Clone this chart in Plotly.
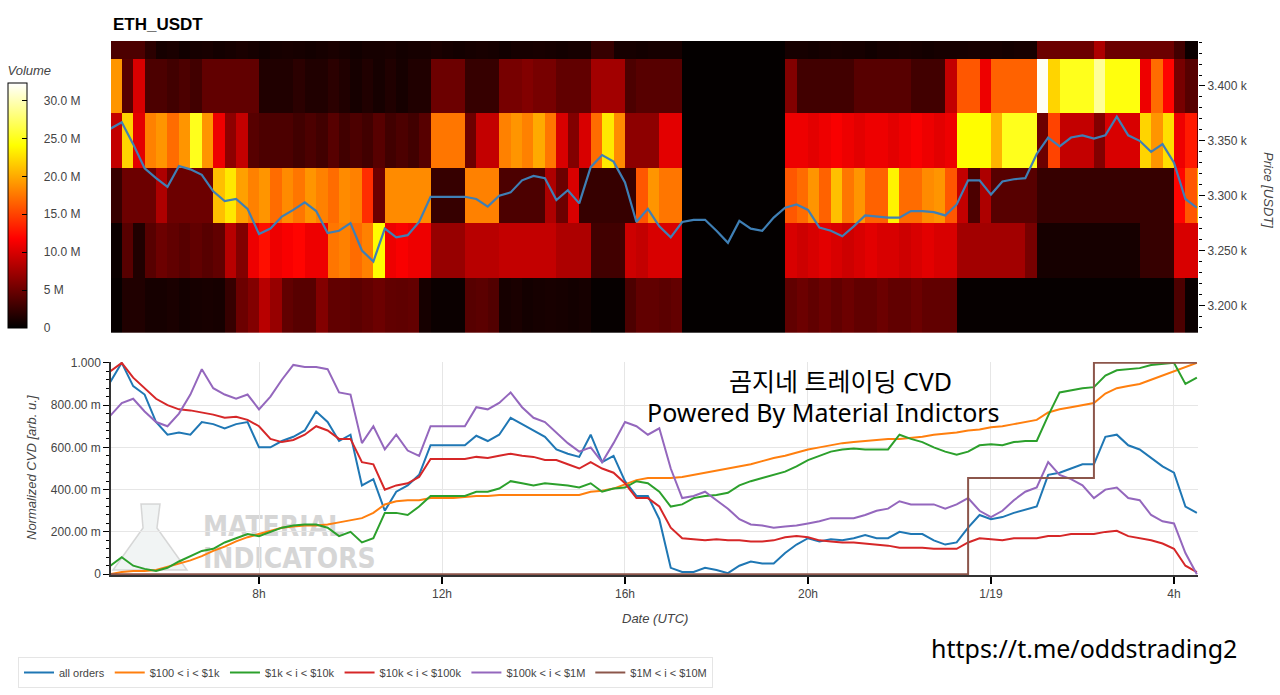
import pandas as pd
import plotly.graph_objects as go

# ---------------- data ----------------
t0 = pd.Timestamp("2025-01-18 04:45")
n_points = 96  # 15-minute samples
times = [t0 + pd.Timedelta(minutes=15 * i) for i in range(n_points)]
heat_x = [t + pd.Timedelta(minutes=7.5) for t in times]
x_range = ["2025-01-18 04:45:54", "2025-01-19 04:31:30"]

price_levels = [3200, 3250, 3300, 3350, 3400, 3450]

# volume per price bin, in millions USDT
vol_3200 = [0.3, 1.5, 1.5, 1.0, 1.0, 1.2, 0.9, 1.0, 1.1, 1.0, 2.5, 5.0,
            6.0, 8.5, 7.0, 4.5, 4.0, 4.0, 6.0, 4.5, 4.5, 4.2, 4.6, 5.0,
            4.5, 4.4, 4.6, 1.0, 0.5, 0.5, 0.5, 4.0, 4.2, 3.8, 1.0, 1.2,
            0.9, 1.0, 1.1, 1.0, 0.9, 1.0, 0.3, 0.3, 0.3, 3.5, 4.5, 4.5,
            4.2, 4.6, 0.2, 0.2, 0.2, 0.2, 0.2, 0.2, 0.2, 0.2, 0.2, 4.5,
            5.0, 4.5, 5.0, 4.5, 5.0, 4.5, 4.5, 5.0, 4.5, 4.5, 5.0, 4.5,
            4.5, 4.5, 0.3, 0.3, 0.3, 0.3, 0.3, 0.3, 0.3, 0.3, 0.3, 0.3,
            0.3, 0.3, 0.3, 0.3, 0.3, 0.3, 0.3, 0.3, 0.3, 3.5, 0.5, 0.5]
vol_3250 = [0.5, 4.0, 1.5, 4.0, 5.0, 4.5, 4.0, 4.5, 4.0, 4.5, 8.5, 6.0,
            11.0, 12.5, 11.0, 11.5, 12.0, 11.0, 11.0, 17.5, 18.0, 17.0, 18.0, 24.0,
            11.0, 11.5, 11.0, 11.0, 7.0, 7.0, 7.0, 8.5, 8.5, 8.5, 9.0, 9.0,
            9.0, 9.0, 9.0, 8.0, 8.0, 8.0, 3.0, 3.0, 3.0, 9.5, 9.0, 10.0,
            10.0, 10.0, 0.2, 0.2, 0.2, 0.2, 0.2, 0.2, 0.2, 0.2, 0.2, 10.0,
            9.5, 10.0, 10.5, 10.0, 9.5, 10.0, 10.5, 10.0, 10.0, 9.5, 10.0, 10.5,
            10.0, 10.0, 7.5, 7.5, 7.5, 7.5, 7.5, 7.5, 5.5, 1.0, 1.0, 1.0,
            1.0, 1.0, 1.0, 1.0, 1.0, 1.0, 2.5, 2.5, 2.5, 10.0, 10.0, 10.0]
vol_3300 = [2.5, 5.0, 5.0, 5.0, 8.0, 5.0, 5.0, 5.0, 5.0, 21.0, 23.0, 19.5,
            18.0, 19.0, 17.0, 18.5, 17.5, 19.0, 18.0, 17.0, 18.5, 18.0, 14.0, 5.0,
            18.5, 18.5, 18.5, 18.5, 2.5, 2.5, 2.5, 18.0, 18.0, 18.0, 3.5, 3.5,
            3.5, 3.5, 8.0, 5.0, 10.0, 2.5, 2.5, 2.5, 2.5, 2.5, 16.0, 19.0,
            17.5, 17.5, 0.2, 0.2, 0.2, 0.2, 0.2, 0.2, 0.2, 0.2, 0.2, 16.0,
            17.0, 19.0, 16.5, 21.0, 17.5, 19.0, 16.5, 16.5, 23.5, 17.0, 17.0, 18.5,
            19.0, 16.0, 9.0, 3.5, 8.0, 4.0, 4.0, 4.0, 4.0, 2.5, 2.5, 2.5,
            2.5, 2.5, 2.5, 2.5, 2.5, 2.5, 2.5, 2.5, 2.5, 12.0, 16.0, 20.5]
vol_3350 = [9.0, 22.0, 10.5, 18.0, 19.0, 17.0, 19.0, 25.0, 19.0, 11.0, 6.5, 9.0,
            4.0, 3.5, 3.5, 3.5, 3.0, 3.5, 3.0, 4.0, 3.0, 3.5, 3.0, 4.0,
            3.0, 3.5, 3.0, 4.0, 17.5, 17.5, 17.5, 5.0, 9.0, 9.0, 18.0, 19.0,
            18.0, 20.0, 17.5, 10.0, 6.0, 10.0, 17.0, 23.0, 18.5, 6.5, 6.5, 6.5,
            10.5, 10.5, 0.2, 0.2, 0.2, 0.2, 0.2, 0.2, 0.2, 0.2, 0.2, 11.0,
            11.0, 10.5, 11.0, 11.5, 11.0, 10.5, 11.0, 11.0, 10.5, 11.0, 11.5, 11.0,
            10.5, 11.0, 24.0, 24.0, 24.0, 20.5, 25.0, 25.0, 25.0, 5.0, 15.0, 9.0,
            9.0, 9.0, 6.0, 10.0, 10.0, 10.0, 22.0, 19.0, 22.5, 11.0, 13.0, 5.0]
vol_3400 = [19.0, 4.0, 10.0, 3.5, 3.5, 3.0, 3.5, 3.0, 4.5, 4.5, 4.5, 4.5,
            4.5, 1.5, 1.5, 1.5, 2.0, 1.5, 1.5, 2.0, 1.5, 1.0, 1.5, 1.0,
            1.5, 1.0, 1.5, 1.5, 5.0, 5.0, 5.0, 2.5, 2.5, 2.5, 5.5, 5.5,
            6.0, 5.5, 5.5, 4.5, 4.5, 4.5, 7.5, 7.5, 7.5, 3.5, 4.0, 4.0,
            4.0, 4.0, 0.2, 0.2, 0.2, 0.2, 0.2, 0.2, 0.2, 0.2, 0.2, 6.0,
            3.0, 3.0, 3.0, 3.0, 3.0, 4.0, 4.0, 4.0, 4.0, 4.0, 3.0, 3.0,
            3.0, 9.0, 16.0, 16.0, 11.0, 16.5, 16.5, 16.5, 16.5, 32.0, 22.0, 25.0,
            25.0, 25.0, 29.0, 24.5, 24.5, 24.5, 11.0, 17.0, 12.0, 5.5, 4.0, 4.0]
vol_3450 = [3.5, 3.5, 3.5, 2.0, 1.0, 1.2, 0.8, 1.0, 1.1, 0.9, 1.0, 1.2,
            1.0, 0.8, 1.0, 1.1, 1.0, 0.9, 1.0, 1.2, 1.0, 0.8, 1.0, 1.0,
            1.1, 0.9, 1.0, 1.0, 1.2, 1.0, 0.9, 1.0, 1.1, 1.0, 0.8, 1.0,
            1.0, 1.1, 1.0, 0.9, 1.0, 1.0, 2.5, 2.5, 1.0, 1.0, 0.9, 1.0,
            1.0, 1.0, 0.2, 0.2, 0.2, 0.2, 0.2, 0.2, 0.2, 0.2, 0.2, 1.0,
            1.0, 0.9, 1.0, 1.1, 1.0, 1.0, 0.8, 1.0, 1.0, 1.1, 1.0, 0.9,
            1.0, 1.0, 1.0, 1.1, 1.0, 1.0, 0.9, 1.0, 1.0, 5.0, 5.0, 5.0,
            5.0, 5.0, 8.0, 5.0, 5.0, 5.0, 5.0, 5.0, 5.0, 3.0, 0.5, 0.5]

price = [3361, 3367, 3347, 3325, 3316, 3308, 3327, 3324, 3319, 3304, 3295, 3297,
         3288, 3265, 3270, 3281, 3287, 3294, 3286, 3266, 3268, 3275, 3250, 3240,
         3270, 3262, 3264, 3276, 3299, 3299, 3299, 3299, 3297, 3290, 3300, 3303,
         3314, 3318, 3316, 3296, 3305, 3293, 3326, 3337, 3331, 3312, 3276, 3288,
         3272, 3262, 3276, 3278, 3278, 3268, 3257, 3277, 3270, 3268, 3280, 3289,
         3292, 3287, 3271, 3268, 3263, 3272, 3282, 3281, 3280, 3280, 3286, 3286,
         3285, 3282, 3292, 3314, 3314, 3301, 3313, 3315, 3316, 3338, 3353, 3345,
         3353, 3355, 3352, 3355, 3372, 3355, 3350, 3340, 3347, 3330, 3297, 3289]

cvd_all = [0.91, 1.00, 0.89, 0.85, 0.72, 0.66, 0.67, 0.66, 0.72, 0.71, 0.69, 0.71,
           0.72, 0.60, 0.60, 0.63, 0.65, 0.68, 0.77, 0.72, 0.63, 0.66, 0.42, 0.45,
           0.30, 0.39, 0.42, 0.47, 0.61, 0.61, 0.61, 0.61, 0.655, 0.63, 0.66, 0.74,
           0.71, 0.68, 0.65, 0.59, 0.57, 0.555, 0.66, 0.53, 0.56, 0.44, 0.37, 0.37,
           0.26, 0.03, 0.01, 0.01, 0.03, 0.02, 0.005, 0.04, 0.06, 0.05, 0.05, 0.10,
           0.14, 0.17, 0.155, 0.165, 0.16, 0.17, 0.185, 0.17, 0.17, 0.20, 0.19, 0.19,
           0.16, 0.14, 0.15, 0.22, 0.28, 0.26, 0.27, 0.29, 0.305, 0.32, 0.47, 0.48,
           0.50, 0.52, 0.52, 0.65, 0.66, 0.61, 0.59, 0.55, 0.51, 0.48, 0.32, 0.29]
cvd_100_1k = [0.0, 0.01, 0.015, 0.015, 0.02, 0.035, 0.05, 0.065, 0.085, 0.11, 0.13, 0.155,
              0.175, 0.19, 0.205, 0.22, 0.225, 0.23, 0.23, 0.235, 0.245, 0.255, 0.265, 0.29,
              0.33, 0.345, 0.35, 0.35, 0.36, 0.36, 0.36, 0.365, 0.37, 0.37, 0.375, 0.375,
              0.375, 0.375, 0.372, 0.372, 0.372, 0.375, 0.39, 0.395, 0.405, 0.425, 0.445, 0.455,
              0.455, 0.455, 0.46, 0.47, 0.48, 0.49, 0.50, 0.51, 0.52, 0.535, 0.55, 0.56,
              0.575, 0.59, 0.60, 0.61, 0.62, 0.625, 0.63, 0.635, 0.64, 0.64, 0.645, 0.65,
              0.66, 0.665, 0.67, 0.68, 0.685, 0.695, 0.70, 0.71, 0.72, 0.73, 0.765, 0.78,
              0.79, 0.80, 0.81, 0.855, 0.88, 0.89, 0.90, 0.92, 0.94, 0.96, 0.98, 1.0]
cvd_1k_10k = [0.04, 0.08, 0.04, 0.025, 0.015, 0.03, 0.06, 0.085, 0.11, 0.12, 0.15, 0.17,
              0.19, 0.18, 0.20, 0.22, 0.23, 0.235, 0.235, 0.22, 0.18, 0.20, 0.15, 0.17,
              0.29, 0.29, 0.28, 0.32, 0.37, 0.37, 0.37, 0.37, 0.39, 0.39, 0.405, 0.44,
              0.43, 0.42, 0.43, 0.425, 0.42, 0.41, 0.43, 0.39, 0.405, 0.41, 0.44, 0.43,
              0.39, 0.32, 0.33, 0.36, 0.37, 0.375, 0.385, 0.42, 0.44, 0.455, 0.47, 0.485,
              0.51, 0.54, 0.56, 0.58, 0.59, 0.595, 0.59, 0.59, 0.59, 0.66, 0.64, 0.625,
              0.60, 0.58, 0.565, 0.58, 0.61, 0.615, 0.61, 0.625, 0.63, 0.63, 0.75, 0.86,
              0.87, 0.88, 0.885, 0.94, 0.965, 0.97, 0.975, 0.99, 0.995, 1.0, 0.90, 0.93]
cvd_10k_100k = [0.96, 1.00, 0.93, 0.88, 0.83, 0.80, 0.78, 0.775, 0.765, 0.755, 0.74, 0.745,
                0.73, 0.70, 0.64, 0.625, 0.635, 0.66, 0.70, 0.68, 0.64, 0.64, 0.53, 0.52,
                0.40, 0.42, 0.43, 0.46, 0.545, 0.545, 0.545, 0.545, 0.555, 0.55, 0.56, 0.57,
                0.56, 0.555, 0.54, 0.54, 0.52, 0.50, 0.53, 0.50, 0.48, 0.43, 0.36, 0.36,
                0.32, 0.22, 0.17, 0.165, 0.16, 0.165, 0.16, 0.16, 0.155, 0.155, 0.16, 0.175,
                0.18, 0.175, 0.16, 0.155, 0.15, 0.15, 0.145, 0.14, 0.135, 0.125, 0.125, 0.125,
                0.12, 0.12, 0.12, 0.15, 0.17, 0.165, 0.16, 0.17, 0.17, 0.17, 0.18, 0.18,
                0.19, 0.19, 0.19, 0.20, 0.205, 0.18, 0.17, 0.16, 0.145, 0.12, 0.04, 0.01]
cvd_100k_1m = [0.75, 0.81, 0.83, 0.77, 0.72, 0.70, 0.76, 0.85, 0.97, 0.88, 0.85, 0.83,
               0.85, 0.78, 0.84, 0.92, 0.99, 0.98, 0.98, 0.97, 0.86, 0.85, 0.62, 0.70,
               0.59, 0.66, 0.585, 0.56, 0.70, 0.70, 0.70, 0.70, 0.79, 0.78, 0.81, 0.86,
               0.79, 0.74, 0.72, 0.67, 0.62, 0.58, 0.60, 0.53, 0.62, 0.72, 0.70, 0.66,
               0.69, 0.50, 0.36, 0.37, 0.39, 0.35, 0.31, 0.26, 0.235, 0.23, 0.22, 0.225,
               0.23, 0.24, 0.25, 0.265, 0.265, 0.265, 0.28, 0.30, 0.31, 0.345, 0.33, 0.33,
               0.33, 0.31, 0.33, 0.36, 0.30, 0.27, 0.30, 0.35, 0.39, 0.41, 0.53, 0.47,
               0.45, 0.42, 0.36, 0.40, 0.41, 0.36, 0.35, 0.28, 0.25, 0.24, 0.10, 0.0]
cvd_1m_10m = [0, 0, 0, 0, 0, 0, 0, 0, 0, 0, 0, 0,
              0, 0, 0, 0, 0, 0, 0, 0, 0, 0, 0, 0,
              0, 0, 0, 0, 0, 0, 0, 0, 0, 0, 0, 0,
              0, 0, 0, 0, 0, 0, 0, 0, 0, 0, 0, 0,
              0, 0, 0, 0, 0, 0, 0, 0, 0, 0, 0, 0,
              0, 0, 0, 0, 0, 0, 0, 0, 0, 0, 0, 0,
              0, 0, 0, 0, 0.455, 0.455, 0.455, 0.455, 0.455, 0.455, 0.455, 0.455,
              0.455, 0.455, 0.455, 1.0, 1.0, 1.0, 1.0, 1.0, 1.0, 1.0, 1.0, 1.0]

series_names = ["all orders", "$100 < i < $1k", "$1k < i < $10k",
                "$10k < i < $100k", "$100k < i < $1M", "$1M < i < $10M"]
series_values = [cvd_all, cvd_100_1k, cvd_1k_10k, cvd_10k_100k, cvd_100k_1m, cvd_1m_10m]
series_colors = ["#1f77b4", "#ff7f0e", "#2ca02c", "#d62728", "#9467bd", "#8c564b"]

for arr in [vol_3200, vol_3250, vol_3300, vol_3350, vol_3400, vol_3450, price] + series_values:
    assert len(arr) == n_points, len(arr)

price_tickvals = [3200, 3250, 3300, 3350, 3400]
price_ticktext = ["3.200 k", "3.250 k", "3.300 k", "3.350 k", "3.400 k"]
vol_tickvals = [0, 5, 10, 15, 20, 25, 30]
vol_ticktext = ["0", "5 M", "10.0 M", "15.0 M", "20.0 M", "25.0 M", "30.0 M"]
cvd_tickvals = [0, 0.2, 0.4, 0.6, 0.8, 1.0]
cvd_ticktext = ["0", "200.00 m", "400.00 m", "600.00 m", "800.00 m", "1.000"]
date_tickvals = ["2025-01-18 08:00", "2025-01-18 12:00", "2025-01-18 16:00",
                 "2025-01-18 20:00", "2025-01-19 00:00", "2025-01-19 04:00"]
date_ticktext = ["8h", "12h", "16h", "20h", "1/19", "4h"]

# ---------------- layout helpers ----------------
W, H = 1280, 695
ML, MR, MT, MB = 111, 82, 41, 120
PW = W - ML - MR
PH = H - MT - MB


def px_x(px):
    return (px - ML) / PW


def px_y(py):
    return (H - MB - py) / PH


FONT = "Liberation Sans, Arial, Helvetica, sans-serif"
TXT = "#444444"
BIG = "Noto Sans, Noto Sans CJK KR, sans-serif"
PAD = "\u00a0\u00a0\u00a0\u00a0"

hot = [[0.0, "rgb(0,0,0)"], [0.365, "rgb(255,0,0)"],
       [0.746, "rgb(255,255,0)"], [1.0, "rgb(255,255,255)"]]

fig = go.Figure()

fig.add_trace(go.Heatmap(
    x=heat_x, y=price_levels,
    z=[vol_3200, vol_3250, vol_3300, vol_3350, vol_3400, vol_3450],
    colorscale=hot, zmin=0, zmax=32.3, xaxis="x", yaxis="y",
    hoverinfo="skip",
    colorbar=dict(
        x=px_x(8), xanchor="left", y=px_y(328), yanchor="bottom",
        len=265, lenmode="pixels", thickness=19, thicknessmode="pixels",
        xpad=0, ypad=0,
        outlinecolor="black", outlinewidth=1,
        ticks="inside", ticklen=5, tickcolor="black",
        tickvals=vol_tickvals, ticktext=[PAD + t for t in vol_ticktext],
        tickfont=dict(family=FONT, size=12, color=TXT),
        title=dict(text="<i>Volume</i>", side="top",
                   font=dict(family=FONT, size=13, color=TXT)),
    ),
))

fig.add_trace(go.Scatter(
    x=times, y=price, mode="lines", xaxis="x", yaxis="y",
    line=dict(color="#3f7fb5", width=2.2), showlegend=False, hoverinfo="skip"))

for name, vals, col in zip(series_names, series_values, series_colors):
    shape = "vh" if name == "$1M < i < $10M" else "linear"
    fig.add_trace(go.Scatter(
        x=times, y=vals, mode="lines", name=name, xaxis="x2", yaxis="y2",
        line=dict(color=col, width=2, shape=shape)))

annotations = [
    dict(text="<b>ETH_USDT</b>", x=0, y=px_y(24), xref="paper", yref="paper",
         xanchor="left", yanchor="middle", showarrow=False,
         font=dict(family=FONT, size=17, color="black")),
    dict(text="<i>Price [USDT]</i>", x=px_x(1269), y=px_y(190), xref="paper", yref="paper",
         xanchor="center", yanchor="middle", textangle=90, showarrow=False,
         font=dict(family=FONT, size=13, color=TXT)),
    dict(text="<i>Normalized CVD [arb. u.]</i>", x=px_x(31), y=px_y(468),
         xref="paper", yref="paper", xanchor="center", yanchor="middle",
         textangle=-90, showarrow=False, font=dict(family=FONT, size=13, color=TXT)),
    dict(text="<i>Date (UTC)</i>", x=px_x(655), y=px_y(618), xref="paper", yref="paper",
         xanchor="center", yanchor="middle", showarrow=False,
         font=dict(family=FONT, size=13, color=TXT)),
    dict(text="곰지네 트레이딩 CVD", x=px_x(840), y=px_y(381), xref="paper", yref="paper",
         xanchor="center", yanchor="middle", showarrow=False,
         font=dict(family=BIG, size=25, color="black")),
    dict(text="Powered By Material Indictors", x=px_x(823), y=px_y(412), xref="paper",
         yref="paper", xanchor="center", yanchor="middle", showarrow=False,
         font=dict(family=BIG, size=25, color="black")),
    dict(text="https://t.me/oddstrading2", x=px_x(1084), y=px_y(648), xref="paper",
         yref="paper", xanchor="center", yanchor="middle", showarrow=False,
         font=dict(family=BIG, size=25, color="black")),
]

WM_FONT = "Liberation Sans Narrow, Arial Narrow, DejaVu Sans Condensed, sans-serif"
WM_COL = "rgb(214,214,214)"
shapes = [
    dict(type="path", xref="paper", yref="paper", layer="below",
         path=(f"M {px_x(141)},{px_y(504)} L {px_x(160)},{px_y(504)} "
               f"L {px_x(157)},{px_y(528)} L {px_x(187)},{px_y(570)} "
               f"L {px_x(113)},{px_y(570)} L {px_x(143)},{px_y(528)} Z"),
         fillcolor="rgba(200,210,210,0.25)", line=dict(color="rgba(200,200,200,0.7)", width=1.5)),
    dict(type="rect", xref="paper", yref="paper", layer="below",
         x0=px_x(200), x1=px_x(390), y0=px_y(540), y1=px_y(508),
         line=dict(width=0), fillcolor="rgba(0,0,0,0)",
         label=dict(text="MATERIAL", textposition="middle left", padding=0,
                    font=dict(family=WM_FONT, size=28, color=WM_COL, weight="bold"))),
    dict(type="rect", xref="paper", yref="paper", layer="below",
         x0=px_x(200), x1=px_x(390), y0=px_y(572), y1=px_y(540),
         line=dict(width=0), fillcolor="rgba(0,0,0,0)",
         label=dict(text="INDICATORS", textposition="middle left", padding=0,
                    font=dict(family=WM_FONT, size=28, color=WM_COL, weight="bold"))),
]

fig.update_layout(
    width=W, height=H,
    margin=dict(l=ML, r=MR, t=MT, b=MB, pad=0, autoexpand=False),
    paper_bgcolor="white", plot_bgcolor="rgba(0,0,0,0)",
    font=dict(family=FONT, size=12, color=TXT),
    showlegend=True,
    legend=dict(orientation="h", x=px_x(18), xanchor="left", y=px_y(657), yanchor="top",
                bordercolor="#e5e5e5", borderwidth=1, bgcolor="white",
                font=dict(family=FONT, size=11, color=TXT), itemwidth=30),
    xaxis=dict(domain=[0, 1], anchor="y", type="date", range=x_range,
               showticklabels=False, ticks="", showgrid=False, zeroline=False),
    yaxis=dict(domain=[px_y(335), 1], anchor="x", side="right", range=[3173, 3441],
               tickvals=price_tickvals, ticktext=price_ticktext,
               ticks="outside", ticklen=6, tickcolor="black",
               minor=dict(tickmode="linear", tick0=3200, dtick=10, ticks="outside",
                          ticklen=3, tickcolor="black", showgrid=False),
               showgrid=False, zeroline=False, showline=False,
               tickfont=dict(family=FONT, size=12, color=TXT)),
    xaxis2=dict(domain=[0, 1], anchor="y2", type="date", range=x_range,
                tickvals=date_tickvals, ticktext=date_ticktext,
                ticks="outside", ticklen=7, tickcolor="black", tickwidth=1.5,
                showline=True, linecolor="#333333", linewidth=1.5,
                showgrid=True, gridcolor="#e6e6e6", zeroline=False,
                tickfont=dict(family=FONT, size=12, color=TXT)),
    yaxis2=dict(domain=[0, px_y(362)], anchor="x2", range=[-0.004, 1.004],
                tickvals=cvd_tickvals, ticktext=cvd_ticktext,
                ticks="outside", ticklen=6, tickcolor="black",
                minor=dict(tickmode="linear", tick0=0, dtick=0.04, ticks="outside",
                           ticklen=3, tickcolor="black", showgrid=False),
                showline=True, linecolor="#333333", linewidth=1.5,
                showgrid=True, gridcolor="#e6e6e6", zeroline=False,
                tickfont=dict(family=FONT, size=12, color=TXT)),
    annotations=annotations,
    shapes=shapes,
)

fig.write_html("out.html", config={"displayModeBar": False},
               post_script="document.body.style.margin='0px';document.body.style.overflow='hidden';")
